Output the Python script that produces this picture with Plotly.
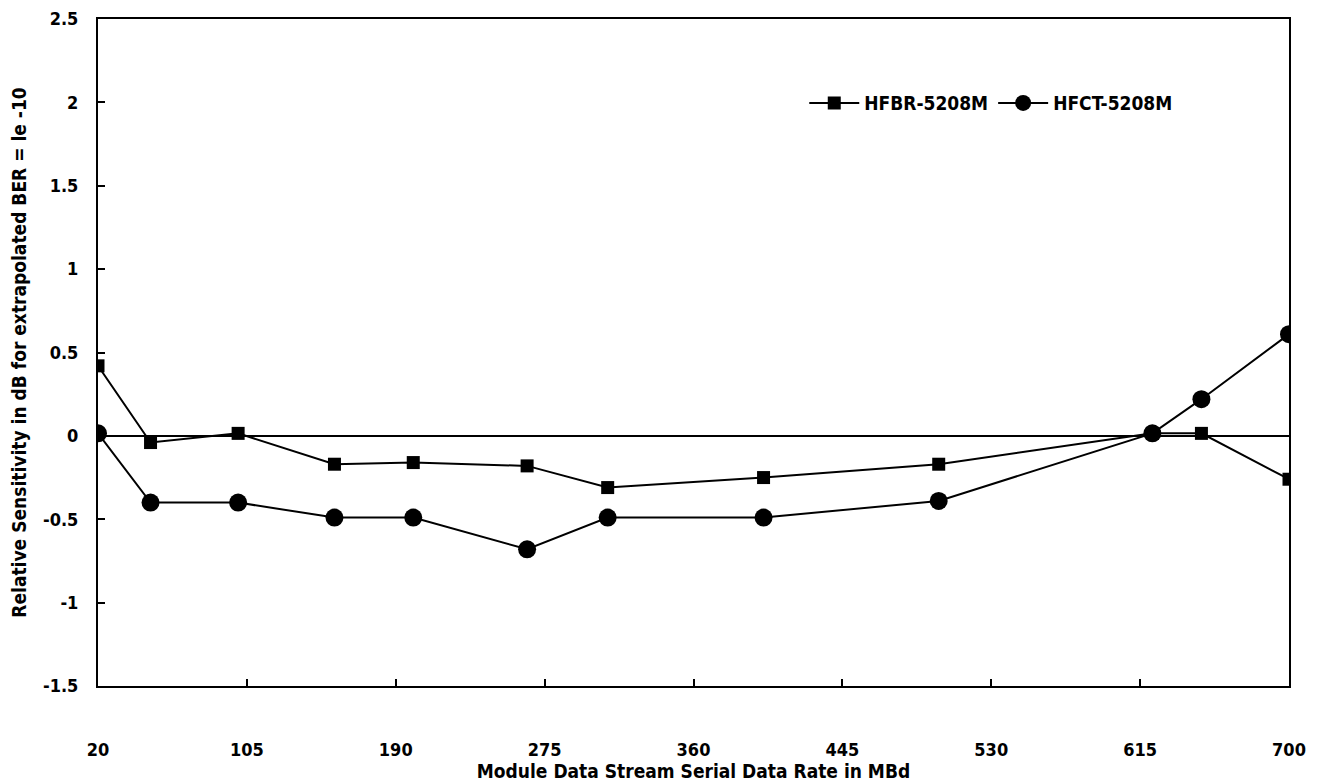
import plotly.graph_objects as go

rate_hfbr = [20, 50, 100, 155, 200, 265, 311, 400, 500, 622, 650, 700]
sens_hfbr = [0.42, -0.04, 0.015, -0.17, -0.16, -0.18, -0.31, -0.25, -0.17, 0.015, 0.015, -0.26]

rate_hfct = [20, 50, 100, 155, 200, 265, 311, 400, 500, 622, 650, 700]
sens_hfct = [0.015, -0.4, -0.4, -0.49, -0.49, -0.68, -0.49, -0.49, -0.39, 0.015, 0.22, 0.61]

x_ticks = [20, 105, 190, 275, 360, 445, 530, 615, 700]
y_ticks = [-1.5, -1, -0.5, 0, 0.5, 1, 1.5, 2, 2.5]
y_tick_text = ["-1.5", "-1", "-0.5", "0", "0.5", "1", "1.5", "2", "2.5"]

FONT = "DejaVu Sans Condensed, Liberation Sans Narrow, Arial Narrow, sans-serif"

fig = go.Figure()
fig.add_trace(go.Scatter(
    x=rate_hfbr, y=sens_hfbr, name="<b>HFBR-5208M</b>", mode="lines+markers",
    line=dict(color="black", width=2),
    marker=dict(symbol="square", size=13, color="black"),
))
fig.add_trace(go.Scatter(
    x=rate_hfct, y=sens_hfct, name="<b>HFCT-5208M</b>", mode="lines+markers",
    line=dict(color="black", width=2),
    marker=dict(symbol="circle", size=18, color="black"),
))

fig.update_layout(
    width=1320, height=780,
    margin=dict(l=90, r=39, t=11, b=102),
    paper_bgcolor="white", plot_bgcolor="white",
    font=dict(family=FONT, size=18, color="black"),
    showlegend=True,
    legend=dict(orientation="h", x=0.593, y=0.874, xanchor="left", yanchor="middle",
                font=dict(family=FONT, size=19, color="black"),
                itemwidth=50, bgcolor="rgba(0,0,0,0)"),
)
fig.update_xaxes(
    range=[20, 700], tickvals=x_ticks, ticktext=[f"<b>{v}</b>" for v in x_ticks],
    showgrid=False, zeroline=False, automargin=False,
    showline=True, linecolor="black", linewidth=2, mirror=True,
    ticks="inside", ticklen=7, tickcolor="black", tickwidth=1.5,
    ticklabelstandoff=46, ticklabeloverflow="allow",
    title=dict(text="<b>Module Data Stream Serial Data Rate in MBd</b>",
               font=dict(family=FONT, size=19), standoff=3),
)
fig.update_yaxes(
    range=[-1.5, 2.5], tickvals=y_ticks, ticktext=[f"<b>{t}</b>" for t in y_tick_text],
    showgrid=False, zeroline=True, zerolinecolor="black", zerolinewidth=1.5,
    automargin=False,
    showline=True, linecolor="black", linewidth=2, mirror=True,
    ticks="inside", ticklen=7, tickcolor="black", tickwidth=1.5,
    ticklabelstandoff=14, ticklabeloverflow="allow",
    title=dict(text="<b>Relative Sensitivity in dB for extrapolated BER = le -10</b>",
               font=dict(family=FONT, size=19), standoff=14),
)

fig.write_html("out.html")
